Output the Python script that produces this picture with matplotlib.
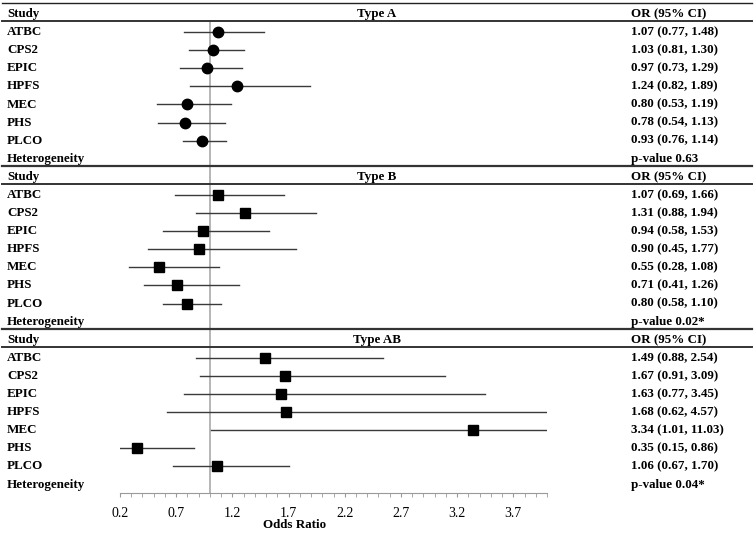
import numpy as np
import matplotlib
matplotlib.use('Agg')
import matplotlib.pyplot as plt
from matplotlib.transforms import blended_transform_factory

plt.rcParams['font.family'] = ['Liberation Serif', 'DejaVu Serif']

studies = ['ATBC', 'CPS2', 'EPIC', 'HPFS', 'MEC', 'PHS', 'PLCO']
panels = ['Type A', 'Type B', 'Type AB']

or_a = [1.07, 1.03, 0.97, 1.24, 0.80, 0.78, 0.93]
lo_a = [0.77, 0.81, 0.73, 0.82, 0.53, 0.54, 0.76]
hi_a = [1.48, 1.30, 1.29, 1.89, 1.19, 1.13, 1.14]

or_b = [1.07, 1.31, 0.94, 0.90, 0.55, 0.71, 0.80]
lo_b = [0.69, 0.88, 0.58, 0.45, 0.28, 0.41, 0.58]
hi_b = [1.66, 1.94, 1.53, 1.77, 1.08, 1.26, 1.10]

or_ab = [1.49, 1.67, 1.63, 1.68, 3.34, 0.35, 1.06]
lo_ab = [0.88, 0.91, 0.77, 0.62, 1.01, 0.15, 0.67]
hi_ab = [2.54, 3.09, 3.45, 4.57, 11.03, 0.86, 1.70]

pvals = ['p-value 0.63', 'p-value 0.02*', 'p-value 0.04*']
markers = ['o', 's', 's']

xmin, xmax = 0.2, 4.0
W, H = 755, 533

fig = plt.figure(figsize=(7.55, 5.33), dpi=100)
# axes spans x pixels 120..547, y pixels 3..493
ax = fig.add_axes([120 / W, 1 - 493 / H, (547 - 120) / W, (493 - 3) / H])
row0, dy = 14, 18.1
ytop = (3 - row0) / dy
ybot = (493 - row0) / dy
ax.set_xlim(xmin, xmax)
ax.set_ylim(ybot, ytop)

tr = blended_transform_factory(fig.transFigure, ax.transData)
fs = 9.4

data = [(or_a, lo_a, hi_a), (or_b, lo_b, hi_b), (or_ab, lo_ab, hi_ab)]
r = 0
for p, (orv, lo, hi) in enumerate(data):
    # header row
    ax.text(7 / W, r, 'Study', transform=tr, fontsize=fs, fontweight='bold', va='center', ha='left')
    ax.text(377 / W, r, panels[p], transform=tr, fontsize=fs, fontweight='bold', va='center', ha='center')
    ax.text(631 / W, r, 'OR (95% CI)', transform=tr, fontsize=fs, fontweight='bold', va='center', ha='left')
    ax.plot([2 / W, 752 / W], [r + 0.4, r + 0.4], transform=tr, color='#333333', lw=1.4, clip_on=False)
    for i, s in enumerate(studies):
        y = r + 1 + i
        ax.text(7 / W, y, s, transform=tr, fontsize=fs, fontweight='bold', va='center', ha='left')
        ax.plot([lo[i], min(hi[i], xmax)], [y, y], color='#3a3a3a', lw=1.0, zorder=3)
        ax.plot(orv[i], y, marker=markers[p], color='black', ms=7.5, zorder=4)
        ax.text(631 / W, y, f'{orv[i]:.2f} ({lo[i]:.2f}, {hi[i]:.2f})', transform=tr,
                fontsize=fs, fontweight='bold', va='center', ha='left')
    yh = r + 8
    ax.text(7 / W, yh, 'Heterogeneity', transform=tr, fontsize=fs, fontweight='bold', va='center', ha='left')
    ax.text(631 / W, yh, pvals[p], transform=tr, fontsize=fs, fontweight='bold', va='center', ha='left')
    if p < 2:
        ax.plot([2 / W, 752 / W], [yh + 0.4, yh + 0.4], transform=tr, color='#333333', lw=1.6, clip_on=False)
    r += 9

# top line
ax.plot([2 / W, 752 / W], [ytop, ytop], transform=tr, color='#222222', lw=1.0, clip_on=False)

# reference line at OR = 1
ax.plot([1, 1], [0.4, ybot], color='#b0b0b0', lw=1.3, zorder=1)

for side in ['top', 'left', 'right']:
    ax.spines[side].set_visible(False)
ax.spines['bottom'].set_color('#999999')
ax.set_yticks([])
ax.set_xticks(np.arange(0.2, 3.71, 0.5))
ax.set_xticklabels([f'{v:.1f}' for v in np.arange(0.2, 3.71, 0.5)])
ax.set_xticks(np.arange(0.2, 4.01, 0.1), minor=True)
ax.tick_params(axis='x', which='both', length=3, color='#999999', labelsize=10, pad=7)
fig.text(295 / W, 1 - 525 / H, 'Odds Ratio', fontsize=fs,
         fontweight='bold', ha='center', va='center')
ax.patch.set_visible(False)

fig.savefig('out.png', dpi=100)
